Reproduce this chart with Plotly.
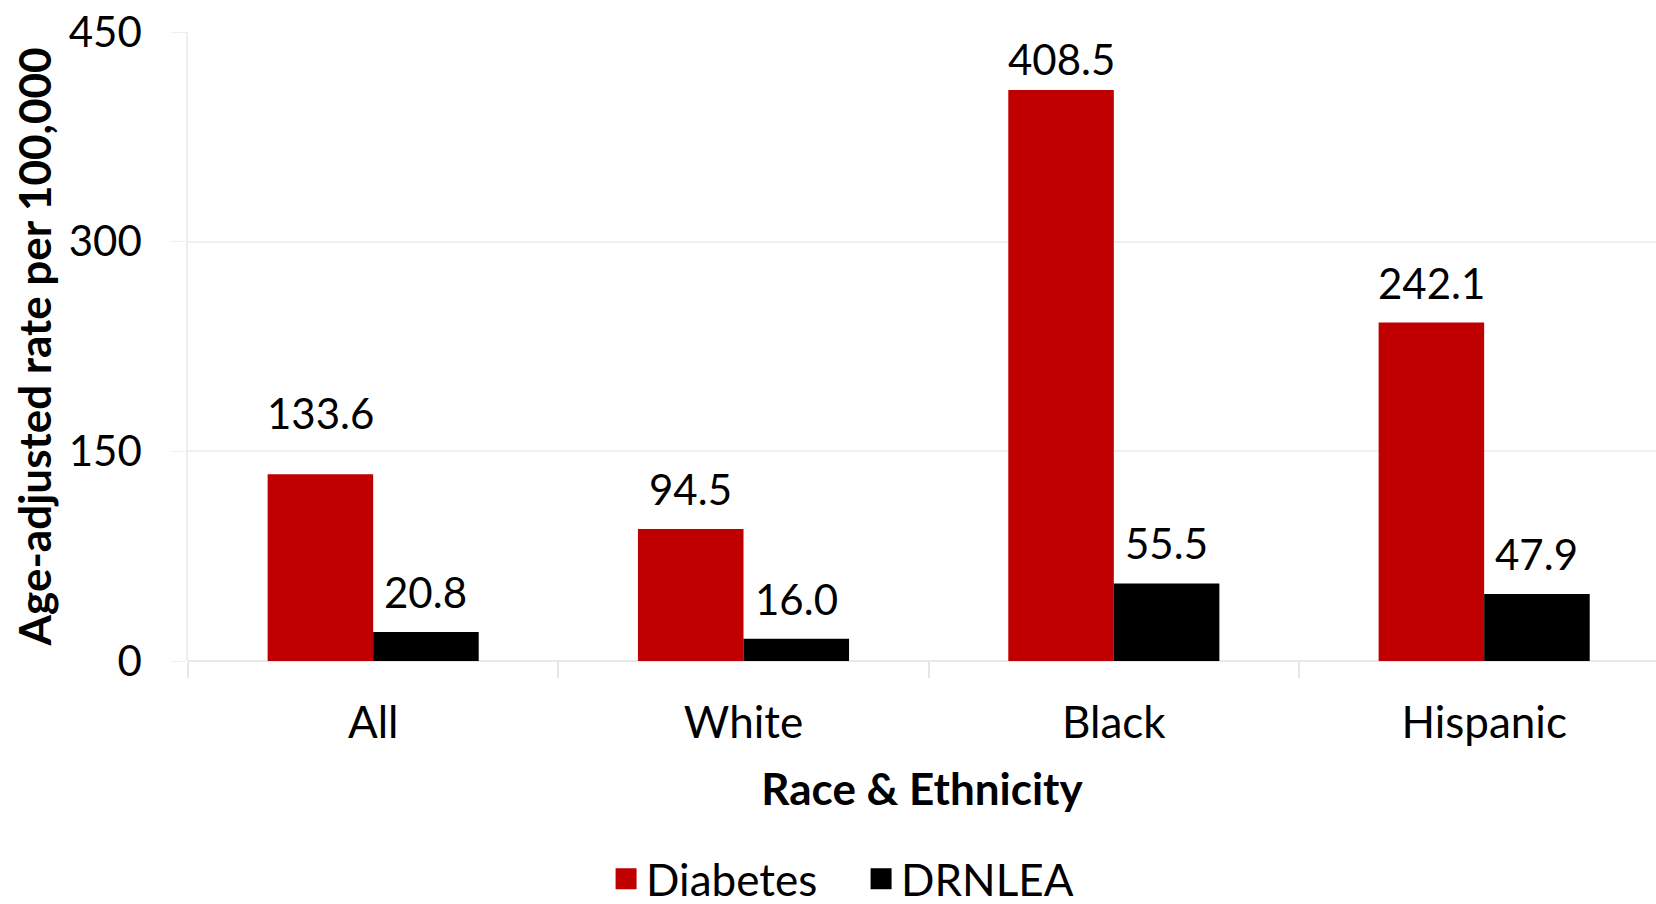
import plotly.graph_objects as go

categories = ["All", "White", "Black", "Hispanic"]
diabetes = [133.6, 94.5, 408.5, 242.1]
drnlea = [20.8, 16.0, 55.5, 47.9]
y_ticks = [0, 150, 300, 450]

series = [("Diabetes", diabetes, "#C00000"), ("DRNLEA", drnlea, "#000000")]
FONT = "Lato"
label_shift = {("Diabetes", "All"): 21, ("Diabetes", "Black"): -9}

fig = go.Figure()
for name, vals, color in series:
    fig.add_trace(go.Bar(
        x=categories, y=vals, name=name, marker_color=color,
        marker_line_width=0, showlegend=False, offsetgroup=name,
    ))
# legend proxies (larger square symbols)
for name, vals, color in series:
    fig.add_trace(go.Scatter(
        x=[None], y=[None], mode="markers", name=name,
        marker=dict(symbol="square", size=16, color=color,
                    line=dict(color=color, width=5)),
    ))

annotations = []
for i, (name, vals, color) in enumerate(series):
    for c, v in zip(categories, vals):
        annotations.append(dict(
            x=c, y=v, xref="x", yref="y", text=f"{v:.1f}",
            showarrow=False, yanchor="bottom",
            xshift=(-1 if i == 0 else 1) * 0.285 * 370.3 / 2,
            yshift=13 + label_shift.get((name, c), 0),
            font=dict(family=FONT, size=42, color="#000000"),
        ))

fig.update_layout(
    width=1656, height=904,
    margin=dict(l=188, r=0, t=32, b=243, autoexpand=False),
    paper_bgcolor="white", plot_bgcolor="white",
    barmode="group", bargap=0.43, bargroupgap=0,
    font=dict(family=FONT, size=42, color="#000000"),
    annotations=annotations,
    legend=dict(orientation="h", x=0.4585, xanchor="center", y=-0.347,
                yanchor="middle", font=dict(family=FONT, size=44),
                itemwidth=30, entrywidth=210, traceorder="normal"),
    xaxis=dict(
        type="category", categoryorder="array", categoryarray=categories,
        range=[-0.5, 3.464],
        ticks="outside", tickson="boundaries", ticklen=16, tickcolor="#E6E6E6",
        tickwidth=1.5, showline=False, showgrid=False, zeroline=False,
        tickfont=dict(family=FONT, size=44), ticklabelstandoff=32,
        title=dict(text="<b>Race & Ethnicity</b>", font=dict(family=FONT, size=44),
                   standoff=28),
    ),
    yaxis=dict(
        range=[0, 450], tickvals=y_ticks, ticks="outside", ticklen=15,
        tickcolor="#EEEEEE", showgrid=True, gridcolor="#F0F0F0", gridwidth=1.5,
        zeroline=True, zerolinecolor="#E8E8E8", zerolinewidth=1.5,
        showline=True, linecolor="#EEEEEE", linewidth=1.5,
        tickfont=dict(family=FONT, size=42), ticklabelstandoff=21,
        title=dict(text="<b>Age-adjusted rate per 100,000</b>",
                   font=dict(family=FONT, size=44), standoff=3),
    ),
)

fig.write_html("out.html")
